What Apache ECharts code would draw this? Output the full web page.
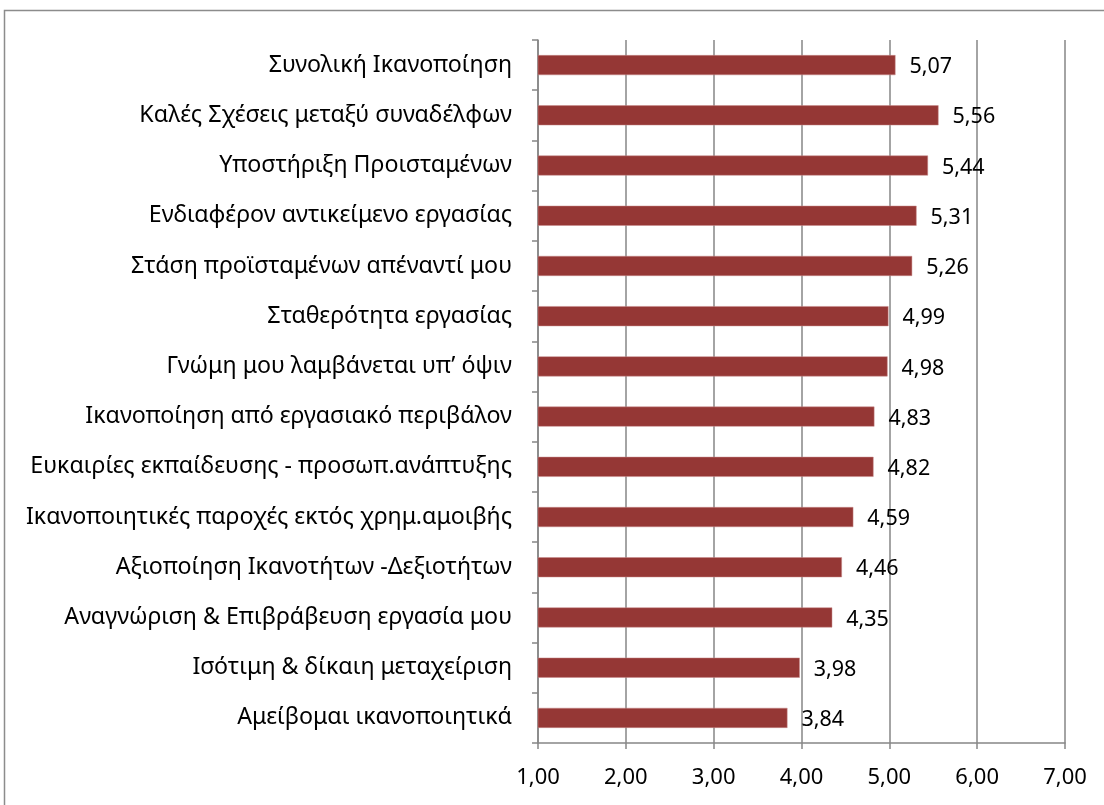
<!DOCTYPE html>
<html><head><meta charset="utf-8">
<script src="https://cdn.jsdelivr.net/npm/echarts@6/dist/echarts.min.js"></script>
<style>html,body{margin:0;padding:0;background:#fff}#c{width:1104px;height:805px}</style>
</head><body><div id="c"></div>
<script>
const categories = [
  "Συνολική Ικανοποίηση",
  "Καλές Σχέσεις μεταξύ συναδέλφων",
  "Υποστήριξη Προισταμένων",
  "Ενδιαφέρον αντικείμενο εργασίας",
  "Στάση προϊσταμένων απέναντί μου",
  "Σταθερότητα εργασίας",
  "Γνώμη μου λαμβάνεται υπ’ όψιν",
  "Ικανοποίηση από εργασιακό περιβάλον",
  "Ευκαιρίες εκπαίδευσης - προσωπ.ανάπτυξης",
  "Ικανοποιητικές παροχές εκτός χρημ.αμοιβής",
  "Αξιοποίηση Ικανοτήτων -Δεξιοτήτων",
  "Αναγνώριση & Επιβράβευση εργασία μου",
  "Ισότιμη & δίκαιη μεταχείριση",
  "Αμείβομαι ικανοποιητικά"
];
const values = [5.07, 5.56, 5.44, 5.31, 5.26, 4.99, 4.98, 4.83, 4.82, 4.59, 4.46, 4.35, 3.98, 3.84];
const xTicks = [1, 2, 3, 4, 5, 6, 7];

const fmt = v => v.toFixed(2).replace('.', ',');
const FONT = 'Noto Sans';
const chart = echarts.init(document.getElementById('c'), null, {renderer: 'canvas'});
chart.setOption({
  animation: false,
  backgroundColor: '#fff',
  textStyle: {fontFamily: FONT},
  grid: {left: 538, right: 39, top: 40, bottom: 62, containLabel: false},
  graphic: [{
    type: 'rect', shape: {x: 4.5, y: 10.5, width: 1120, height: 820},
    style: {fill: 'none', stroke: '#8c8c8c', lineWidth: 1.5}, silent: true
  }],
  xAxis: {
    type: 'value', min: xTicks[0], max: xTicks[xTicks.length - 1], interval: 1,
    axisLine: {show: true, lineStyle: {color: '#868686', width: 1.5}},
    axisTick: {show: true, length: 6, lineStyle: {color: '#868686', width: 1.5}},
    splitLine: {show: true, lineStyle: {color: '#868686', width: 1.5}},
    axisLabel: {formatter: v => fmt(v), color: '#000', fontSize: 22, fontFamily: FONT, margin: 24}
  },
  yAxis: {
    type: 'category', data: categories, inverse: true,
    axisLine: {show: true, lineStyle: {color: '#868686', width: 1.5}},
    axisTick: {show: true, length: 6, lineStyle: {color: '#868686', width: 1.5}},
    splitLine: {show: false},
    axisLabel: {color: '#000', fontSize: 23.2, fontFamily: FONT, margin: 26}
  },
  series: [{
    type: 'bar', data: values, barWidth: 20,
    itemStyle: {color: '#953735', borderColor: '#c98b8a', borderWidth: 0.5},
    label: {show: true, position: 'right', distance: 14, formatter: p => fmt(p.value),
      color: '#000', fontSize: 21.5, fontFamily: FONT, offset: [0, 2]}
  }]
});
</script></body></html>
